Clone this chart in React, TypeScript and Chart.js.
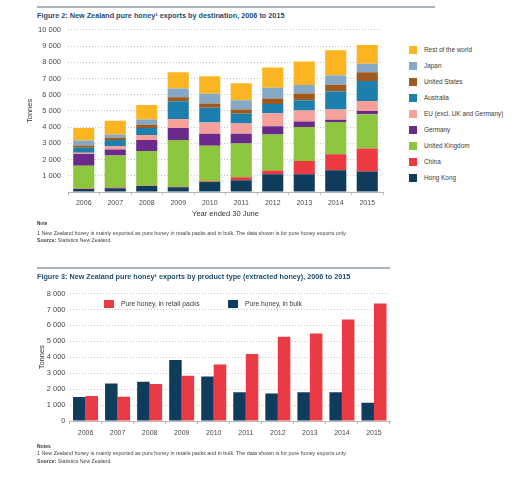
import React, { useEffect, useLayoutEffect, useRef } from 'react';
import { Chart, registerables } from 'chart.js';

Chart.register(...registerables);

// ---------- data ----------
const YEARS = ['2006', '2007', '2008', '2009', '2010', '2011', '2012', '2013', '2014', '2015'];

const HONG_KONG = [190, 230, 370, 290, 620, 720, 1090, 1090, 1340, 1260];
const CHINA = [30, 40, 20, 40, 40, 190, 230, 820, 990, 1420];
const UNITED_KINGDOM = [1400, 1980, 2140, 2870, 2190, 2080, 2230, 2100, 1980, 2120];
const GERMANY = [730, 370, 680, 740, 740, 600, 500, 330, 140, 190];
const EU = [70, 210, 310, 560, 700, 640, 800, 680, 640, 620];
const AUSTRALIA = [310, 370, 430, 1090, 910, 600, 580, 640, 1110, 1240];
const UNITED_STATES = [140, 140, 190, 250, 250, 250, 330, 410, 410, 540];
const JAPAN = [310, 210, 330, 540, 600, 580, 660, 520, 580, 520];
const REST_OF_WORLD = [770, 850, 890, 1010, 1090, 1050, 1260, 1460, 1550, 1150];

const DEST_LABELS = ['Hong Kong', 'China', 'United Kingdom', 'Germany', 'EU (excl. UK and Germany)', 'Australia', 'United States', 'Japan', 'Rest of the world'];
const DEST_VALUES = [HONG_KONG, CHINA, UNITED_KINGDOM, GERMANY, EU, AUSTRALIA, UNITED_STATES, JAPAN, REST_OF_WORLD];
const DEST_COLORS = ['#0f3c5c', '#ec3a40', '#8cc63f', '#6a2a8c', '#f5a098', '#1d7fae', '#a0591f', '#85a8c6', '#fbb522'];

const BULK = [1500, 2360, 2460, 3820, 2800, 1800, 1730, 1800, 1800, 1150];
const RETAIL = [1570, 1520, 2320, 2840, 3550, 4200, 5280, 5490, 6370, 7370];
const TYPE_LABELS = ['Pure honey, in bulk', 'Pure honey, in retail packs'];
const TYPE_VALUES = [BULK, RETAIL];
const TYPE_COLORS = ['#0f3c5c', '#ec3a44'];

const TITLE1 = 'Figure 2: New Zealand pure honey\u00b9 exports by destination, 2006 to 2015';
const TITLE2 = 'Figure 3: New Zealand pure honey\u00b9 exports by product type (extracted honey), 2006 to 2015';
const NOTE_TEXT = '1 New Zealand honey is mainly exported as pure honey in retails packs and in bulk. The data shown is for pure honey exports only.';

// ---------- styles ----------
const FONT = "'Liberation Sans', Arial, sans-serif";
const TICK = '#4a4a4a';
const GRID = '#c4c4c4';
const AXIS = '#b5b5b5';
const TITLE_COLOR = '#1e4d6b';
const RULE = '#aab4bd';

Chart.defaults.font.family = FONT;

const fmt = (v: number) => String(v).replace(/\B(?=(\d{3})+(?!\d))/g, ' ');

function Fit({ w, sx, style, children }: { w?: number; sx?: number; style?: React.CSSProperties; children: React.ReactNode }) {
  const ref = useRef<HTMLSpanElement>(null);
  useLayoutEffect(() => {
    const el = ref.current;
    if (!el) return;
    el.style.transform = 'none';
    const nat = el.offsetWidth;
    const k = w ? w / Math.max(nat, 1) : sx || 1;
    el.style.transform = `scaleX(${k})`;
  });
  return (
    <span ref={ref} style={{ display: 'inline-block', whiteSpace: 'nowrap', transformOrigin: '0 50%', ...style }}>
      {children}
    </span>
  );
}

function Txt({ x, cy, size, bold, color, w, sx, children }: { x: number; cy: number; size: number; bold?: boolean; color?: string; w?: number; sx?: number; children: React.ReactNode }) {
  const lh = Math.ceil(size * 1.4);
  return (
    <div style={{ position: 'absolute', left: x, top: cy - lh / 2, height: lh, lineHeight: `${lh}px`, fontSize: size, fontWeight: bold ? 700 : 400, color: color || '#333', whiteSpace: 'nowrap' }}>
      <Fit w={w} sx={sx}>{children}</Fit>
    </div>
  );
}

function DestChart() {
  const ref = useRef<HTMLCanvasElement>(null);
  useEffect(() => {
    const chart = new Chart(ref.current!, {
      type: 'bar',
      data: {
        labels: YEARS,
        datasets: DEST_LABELS.map((label, i) => ({
          label,
          data: DEST_VALUES[i],
          backgroundColor: DEST_COLORS[i],
          borderWidth: 0,
          barPercentage: 0.67,
          categoryPercentage: 1,
        })),
      },
      options: {
        animation: false,
        responsive: false,
        maintainAspectRatio: false,
        layout: { padding: { top: 29.8, right: 17, bottom: 0, left: 0 } },
        plugins: { legend: { display: false }, tooltip: { enabled: false } },
        scales: {
          x: {
            stacked: true,
            grid: { display: true, drawOnChartArea: false, drawTicks: true, tickLength: 3, color: AXIS, offset: true },
            border: { display: true, color: AXIS },
            ticks: { font: { size: 7 }, color: TICK, padding: 4, maxRotation: 0 },
            title: { display: true, text: 'Year ended 30 June', font: { size: 7.5 }, color: '#333', padding: { top: 2, bottom: 6.5 } },
            afterFit: (s: any) => { s.height = 33; },
          },
          y: {
            stacked: true,
            min: 0,
            max: 10000,
            ticks: { stepSize: 1000, font: { size: 7.5 }, color: TICK, padding: 7, callback: (v: any) => (v === 0 ? '' : fmt(v)) },
            grid: { color: GRID, drawTicks: false },
            border: { display: false, dash: [1, 2] },
            title: { display: true, text: 'Tonnes', font: { size: 7.5 }, color: '#333', padding: { top: 25.5, bottom: 0 } },
            afterFit: (s: any) => { s.width = 68; },
          },
        },
      } as any,
    });
    return () => chart.destroy();
  }, []);
  return <canvas ref={ref} width={400} height={225} style={{ position: 'absolute', left: 0, top: 0, width: 400, height: 225 }} />;
}

function TypeChart() {
  const ref = useRef<HTMLCanvasElement>(null);
  useEffect(() => {
    const chart = new Chart(ref.current!, {
      type: 'bar',
      data: {
        labels: YEARS,
        datasets: TYPE_LABELS.map((label, i) => ({
          label,
          data: TYPE_VALUES[i],
          backgroundColor: TYPE_COLORS[i],
          borderWidth: 0,
          barPercentage: 1,
          categoryPercentage: 0.78,
        })),
      },
      options: {
        animation: false,
        responsive: false,
        maintainAspectRatio: false,
        layout: { padding: { top: 31.5, right: 10, bottom: 0, left: 0 } },
        plugins: { legend: { display: false }, tooltip: { enabled: false } },
        scales: {
          x: {
            grid: { display: true, drawOnChartArea: false, drawTicks: true, tickLength: 3, color: AXIS, offset: true },
            border: { display: true, color: AXIS },
            ticks: { font: { size: 7 }, color: TICK, padding: 4.5, maxRotation: 0 },
            afterFit: (s: any) => { s.height = 21; },
          },
          y: {
            min: 0,
            max: 8000,
            ticks: { stepSize: 1000, font: { size: 7.5 }, color: TICK, padding: 4, callback: (v: any) => fmt(v) },
            grid: { color: GRID, drawTicks: false },
            border: { display: false, dash: [1, 2] },
            title: { display: true, text: 'Tonnes', font: { size: 7.5 }, color: '#333', padding: { top: 37.5, bottom: 0 } },
            afterFit: (s: any) => { s.width = 69.5; },
          },
        },
      } as any,
    });
    return () => chart.destroy();
  }, []);
  return <canvas ref={ref} width={400} height={180} style={{ position: 'absolute', left: 0, top: 262, width: 400, height: 180 }} />;
}

export default function App() {
  const legendTop = DEST_LABELS.map((l, i) => ({ l, c: DEST_COLORS[i] })).reverse();
  const legendBottom = [
    { l: TYPE_LABELS[1], c: TYPE_COLORS[1], x: 104, w: 79 },
    { l: TYPE_LABELS[0], c: TYPE_COLORS[0], x: 228, w: 57 },
  ];
  return (
    <div style={{ position: 'absolute', left: 0, top: 0, width: 520, height: 488, background: '#fff', fontFamily: FONT, overflow: 'hidden' }}>
      {/* Figure 2 */}
      <div style={{ position: 'absolute', left: 37, top: 6, width: 398, height: 1.5, background: RULE }} />
      <Txt x={37} cy={15.3} size={7.5} bold color={TITLE_COLOR} w={247}>{TITLE1}</Txt>
      <DestChart />
      {legendTop.map((it, i) => (
        <React.Fragment key={it.l}>
          <div style={{ position: 'absolute', left: 409, top: 50.3 + i * 15.9 - 4, width: 8, height: 8, background: it.c }} />
          <Txt x={424} cy={50.3 + i * 15.9} size={8} color="#3a3a3a" sx={0.8}>{it.l}</Txt>
        </React.Fragment>
      ))}
      <Txt x={37} cy={223.3} size={6} bold color="#333" w={10}>Note</Txt>
      <Txt x={37} cy={233} size={6} color="#444" w={310}>{NOTE_TEXT}</Txt>
      <Txt x={37} cy={240.7} size={6} color="#444" w={75}><b>Source:</b> Statistics New Zealand.</Txt>

      {/* Figure 3 */}
      <div style={{ position: 'absolute', left: 37, top: 267, width: 353, height: 1.5, background: RULE }} />
      <Txt x={37} cy={276.5} size={7.5} bold color={TITLE_COLOR} w={313.7}>{TITLE2}</Txt>
      <TypeChart />
      {legendBottom.map((it) => (
        <React.Fragment key={it.l}>
          <div style={{ position: 'absolute', left: it.x, top: 300, width: 10, height: 8, background: it.c }} />
          <Txt x={it.x + 16.5} cy={304} size={8} color="#3a3a3a" w={it.w}>{it.l}</Txt>
        </React.Fragment>
      ))}
      <Txt x={37} cy={446.3} size={6} bold color="#333" w={14}>Notes</Txt>
      <Txt x={37} cy={453.3} size={6} color="#444" w={310}>{NOTE_TEXT}</Txt>
      <Txt x={37} cy={461.7} size={6} color="#444" w={75}><b>Source:</b> Statistics New Zealand.</Txt>
    </div>
  );
}
